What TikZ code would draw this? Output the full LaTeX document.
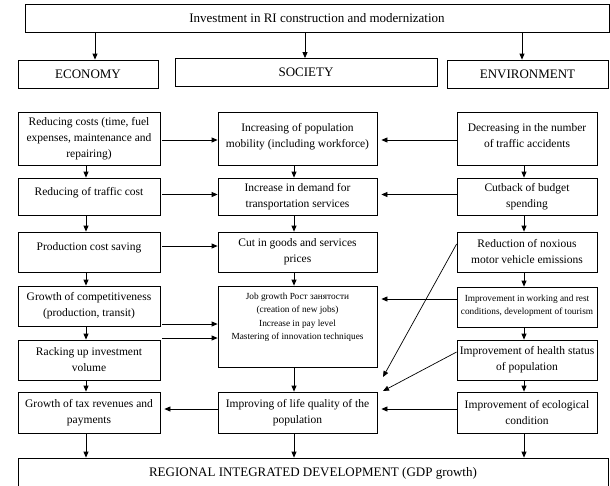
\documentclass[tikz,border=0pt]{standalone}
\usepackage{fontspec}
\setmainfont{Liberation Serif}
\usetikzlibrary{arrows.meta}
\begin{document}
\begin{tikzpicture}[x=1pt,y=-1pt,
  box/.style={draw, line width=0.8pt, inner sep=2pt, align=center,
    font=\fontsize{11.5}{16}\selectfont},
  small/.style={box, inner sep=1pt, font=\fontsize{9.3}{13.3}\selectfont},
  hdr/.style={draw, line width=0.8pt, inner sep=2pt, font=\fontsize{13}{15}\selectfont},
  arr/.style={-{Triangle[length=6pt,width=5pt]}, line width=0.8pt},
  thin arr/.style={-{Triangle[length=6pt,width=5pt]}, line width=0.7pt}]
\useasboundingbox (0,0) rectangle (610,485);
% headers
\node[hdr, minimum width=584pt, minimum height=28pt] (top) at (317,18) {Investment in RI construction and modernization};
\node[hdr, minimum width=140pt, minimum height=28pt] (econ) at (88,74) {ECONOMY};
\node[hdr, minimum width=262pt, minimum height=28pt] (soc) at (306,72.5) {SOCIETY};
\node[hdr, minimum width=161pt, minimum height=28pt] (env) at (527.5,74) {ENVIRONMENT};
% left column
\node[box, minimum width=142pt, minimum height=53pt] (l1) at (89,138.5) {Reducing costs (time, fuel\\expenses, maintenance and\\repairing)};
\node[box, minimum width=142pt, minimum height=37pt] (l2) at (89,196.5) {Reducing of traffic cost\\[-6pt]\mbox{}};
\node[box, minimum width=142pt, minimum height=40pt] (l3) at (89,252) {Production cost saving\\[-6pt]\mbox{}};
\node[box, minimum width=142pt, minimum height=40pt] (l4) at (89,306) {Growth of competitiveness\\(production, transit)};
\node[box, minimum width=142pt, minimum height=40pt] (l5) at (89,360) {Racking up investment\\volume};
\node[box, minimum width=142pt, minimum height=41pt] (l6) at (89,412.5) {Growth of tax revenues and\\payments};
% middle column
\node[box, minimum width=159pt, minimum height=53pt] (m1) at (297.5,138.5) {Increasing of population\\mobility (including workforce)\\[-10pt]\mbox{}};
\node[box, minimum width=159pt, minimum height=37pt] (m2) at (297.5,196.5) {Increase in demand for\\transportation services};
\node[box, minimum width=159pt, minimum height=40pt] (m3) at (297.5,252) {Cut in goods and services\\prices};
\node[small, minimum width=159pt, minimum height=81pt] (job) at (297.5,326.5) {Job growth Рост занятости\\(creation of new jobs)\\Increase in pay level\\Mastering of innovation techniques\\[7pt]\mbox{}};
\node[box, minimum width=159pt, minimum height=41pt] (m6) at (297.5,412.5) {Improving of life quality of the\\population};
% right column
\node[box, minimum width=140pt, minimum height=53pt] (r1) at (527,138.5) {Decreasing in the number\\of traffic accidents\\[-10pt]\mbox{}};
\node[box, minimum width=140pt, minimum height=37pt] (r2) at (527,196.5) {Cutback of budget\\spending};
\node[box, minimum width=140pt, minimum height=40pt] (r3) at (527,252) {Reduction of noxious\\motor vehicle emissions};
\node[small, minimum width=140pt, minimum height=40pt] (r4) at (527,307) {Improvement in working and rest\\conditions, development of tourism\\[-9pt]\mbox{}};
\node[box, minimum width=140pt, minimum height=40pt] (r5) at (527,360) {Improvement of health status\\of population};
\node[box, minimum width=140pt, minimum height=41pt] (r6) at (527,412.5) {Improvement of ecological\\condition};
% bottom
\node[hdr, minimum width=590pt, minimum height=30pt] (bot) at (313,473) {REGIONAL INTEGRATED DEVELOPMENT (GDP growth)};
% helper coordinates
\coordinate (ta) at (95,0);
\coordinate (tb) at (305,0);
\coordinate (tc) at (522,0);
\coordinate (cl) at (86,0);
\coordinate (cm) at (294,0);
\coordinate (cr) at (524,0);
\coordinate (h1) at (0,140);
\coordinate (h2) at (0,194.5);
\coordinate (h3) at (0,246);
\coordinate (h4) at (0,299);
\coordinate (h5) at (0,324);
\coordinate (h6) at (0,338);
\coordinate (h7) at (0,409);
\coordinate (s1) at (0,244);
\coordinate (s2) at (0,352);
\coordinate (d1) at (383,377);
\coordinate (d2) at (383,391);
% top arrows
\draw[arr] (top.south -| ta) -- (econ.north -| ta);
\draw[arr] (top.south -| tb) -- (soc.north -| tb);
\draw[arr] (top.south -| tc) -- (env.north -| tc);
% vertical arrows
\draw[arr] (l1.south -| cl) -- (l2.north -| cl);
\draw[arr] (l2.south -| cl) -- (l3.north -| cl);
\draw[arr] (l3.south -| cl) -- (l4.north -| cl);
\draw[arr] (l4.south -| cl) -- (l5.north -| cl);
\draw[arr] (l5.south -| cl) -- (l6.north -| cl);
\draw[arr] (l6.south -| cl) -- (bot.north -| cl);
\draw[arr] (m1.south -| cm) -- (m2.north -| cm);
\draw[arr] (m2.south -| cm) -- (m3.north -| cm);
\draw[arr] (m3.south -| cm) -- (job.north -| cm);
\draw[arr] (job.south -| cm) -- (m6.north -| cm);
\draw[arr] (m6.south -| cm) -- (bot.north -| cm);
\draw[arr] (r1.south -| cr) -- (r2.north -| cr);
\draw[arr] (r2.south -| cr) -- (r3.north -| cr);
\draw[arr] (r3.south -| cr) -- (r4.north -| cr);
\draw[arr] (r4.south -| cr) -- (r5.north -| cr);
\draw[arr] (r5.south -| cr) -- (r6.north -| cr);
\draw[arr] (r6.south -| cr) -- (bot.north -| cr);
% horizontal arrows
\draw[arr] ([xshift=2pt]l1.east |- h1) -- (m1.west |- h1);
\draw[arr] (r1.west |- h1) -- ([xshift=4pt]m1.east |- h1);
\draw[arr] ([xshift=2pt]l2.east |- h2) -- (m2.west |- h2);
\draw[arr] (r2.west |- h2) -- ([xshift=4pt]m2.east |- h2);
\draw[arr] ([xshift=2pt]l3.east |- h3) -- (m3.west |- h3);
\draw[arr] (r4.west |- h4) -- ([xshift=4pt]job.east |- h4);
\draw[arr] ([xshift=2pt]l4.east |- h5) -- (job.west |- h5);
\draw[arr] ([xshift=2pt]l5.east |- h6) -- (job.west |- h6);
\draw[arr] (m6.west |- h7) -- ([xshift=4pt]l6.east |- h7);
\draw[arr] (r6.west |- h7) -- ([xshift=4pt]m6.east |- h7);
% diagonal arrows
\draw[thin arr] (r3.west |- s1) -- (d1);
\draw[thin arr] (r5.west |- s2) -- (d2);
\end{tikzpicture}
\end{document}
